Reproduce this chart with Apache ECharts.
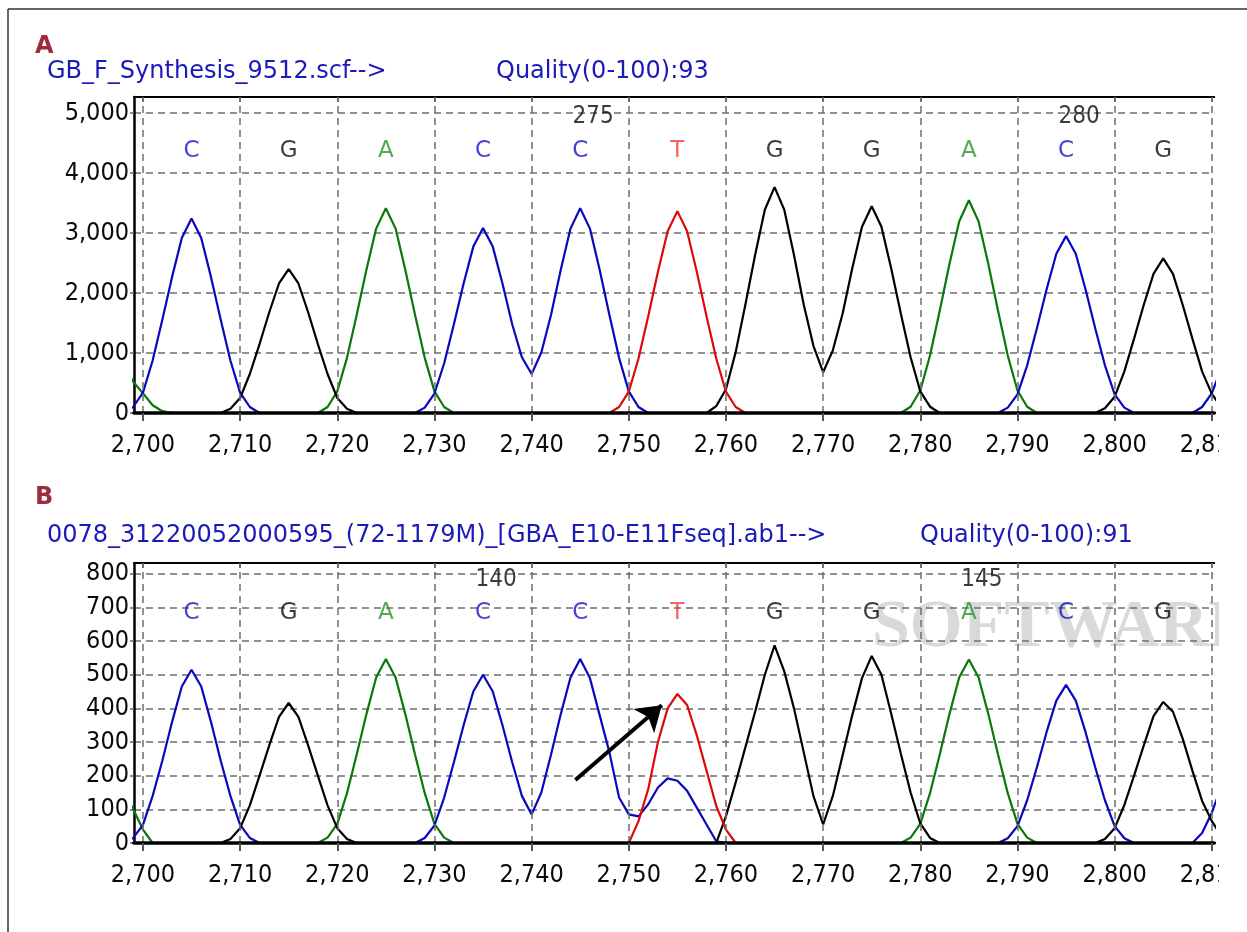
<!DOCTYPE html>
<html><head><meta charset="utf-8">
<script src="https://cdn.jsdelivr.net/npm/echarts@6/dist/echarts.min.js"></script>
<style>html,body{margin:0;padding:0;background:#fff}#c{width:1247px;height:932px}</style>
</head><body><div id="c"></div>
<script>
// ---------- DATA ----------
const X0 = 2698;                     // first scan position of every trace array (one value per scan)
const xTicks = [2700,2710,2720,2730,2740,2750,2760,2770,2780,2790,2800,2810];
const baseCalls = ['C','G','A','C','C','T','G','G','A','C','G'];
const basePositions = [2705,2715,2725,2735,2745,2755,2765,2775,2785,2795,2805];
const numPosA = [2745, 2795], numLabelsA = ['275', '280'];
const numPosB = [2735, 2785], numLabelsB = ['140', '145'];
const titleA = 'GB_F_Synthesis_9512.scf-->', qualityA = 'Quality(0-100):93';
const titleB = '0078_31220052000595_(72-1179M)_[GBA_E10-E11Fseq].ab1-->', qualityB = 'Quality(0-100):91';
const arrowFrom = [2744.5, 187], arrowTo = [2753.4, 409];

// Panel A traces, x = 2698 .. 2811
const A_C = [0,100,
 340,875,1560,2270,2920,3245,2920,2270,1560,875,
 340,100,0,0,0,0,0,0,0,0,
 0,0,0,0,0,0,0,0,0,90,
 325,830,1480,2160,2775,3083,2775,2160,1480,930,
 650,1010,1640,2390,3075,3416,3075,2390,1640,920,
 360,100,0,0,0,0,0,0,0,0,
 0,0,0,0,0,0,0,0,0,0,
 0,0,0,0,0,0,0,0,0,0,
 0,0,0,0,0,0,0,0,0,90,
 310,795,1415,2065,2655,2950,2655,2065,1415,795,
 310,90,0,0,0,0,0,0,0,100,
 330,750];
const A_G = [0,0,
 0,0,0,0,0,0,0,0,0,70,
 250,650,1150,1680,2160,2400,2160,1680,1150,650,
 250,70,0,0,0,0,0,0,0,0,
 0,0,0,0,0,0,0,0,0,0,
 0,0,0,0,0,0,0,0,0,0,
 0,0,0,0,0,0,0,0,0,115,
 395,1015,1810,2635,3390,3766,3390,2635,1810,1120,
 680,1045,1655,2415,3105,3449,3105,2415,1655,930,
 360,105,0,0,0,0,0,0,0,0,
 0,0,0,0,0,0,0,0,0,80,
 270,695,1240,1805,2320,2580,2320,1805,1240,695,
 320,90];
const A_A = [800,520,
 330,130,30,0,0,0,0,0,0,0,
 0,0,0,0,0,0,0,0,0,100,
 360,920,1640,2390,3075,3416,3075,2390,1640,920,
 360,100,0,0,0,0,0,0,0,0,
 0,0,0,0,0,0,0,0,0,0,
 0,0,0,0,0,0,0,0,0,0,
 0,0,0,0,0,0,0,0,0,0,
 0,0,0,0,0,0,0,0,0,105,
 375,960,1705,2485,3195,3549,3195,2485,1705,960,
 375,105,0,0,0,0,0,0,0,0,
 0,0,0,0,0,0,0,0,0,0,
 0,0];
const A_T = [0,0,
 0,0,0,0,0,0,0,0,0,0,
 0,0,0,0,0,0,0,0,0,0,
 0,0,0,0,0,0,0,0,0,0,
 0,0,0,0,0,0,0,0,0,0,
 0,0,0,0,0,0,0,0,0,100,
 355,910,1615,2355,3030,3367,3030,2355,1615,910,
 355,100,0,0,0,0,0,0,0,0,
 0,0,0,0,0,0,0,0,0,0,
 0,0,0,0,0,0,0,0,0,0,
 0,0,0,0,0,0,0,0,0,0,
 0,0,0,0,0,0,0,0,0,0,
 0,0];

// Panel B traces, x = 2698 .. 2811
const B_C = [0,15,
 54,140,245,360,465,515,465,360,245,140,
 54,15,0,0,0,0,0,0,0,0,
 0,0,0,0,0,0,0,0,0,15,
 52,135,240,350,450,500,450,350,240,140,
 85,150,263,383,492,547,490,380,270,135,
 85,79,115,165,192,185,155,105,55,5,
 0,0,0,0,0,0,0,0,0,0,
 0,0,0,0,0,0,0,0,0,0,
 0,0,0,0,0,0,0,0,0,14,
 50,127,225,330,423,470,423,330,225,127,
 50,14,0,0,0,0,0,0,0,30,
 90,170];
const B_G = [0,0,
 0,0,0,0,0,0,0,0,0,12,
 44,112,200,290,375,416,375,290,200,112,
 44,12,0,0,0,0,0,0,0,0,
 0,0,0,0,0,0,0,0,0,0,
 0,0,0,0,0,0,0,0,0,0,
 0,0,0,0,0,0,0,0,0,0,
 80,180,285,390,500,587,510,400,270,140,
 55,140,260,380,490,556,500,385,265,150,
 58,15,0,0,0,0,0,0,0,0,
 0,0,0,0,0,0,0,0,0,12,
 44,113,200,290,377,419,390,310,215,125,
 65,20];
const B_A = [160,100,
 40,0,0,0,0,0,0,0,0,0,
 0,0,0,0,0,0,0,0,0,16,
 57,148,263,383,492,547,492,383,263,148,
 57,16,0,0,0,0,0,0,0,0,
 0,0,0,0,0,0,0,0,0,0,
 0,0,0,0,0,0,0,0,0,0,
 0,0,0,0,0,0,0,0,0,0,
 0,0,0,0,0,0,0,0,0,16,
 57,148,263,383,492,545,492,383,263,148,
 57,16,0,0,0,0,0,0,0,0,
 0,0,0,0,0,0,0,0,0,0,
 0,0];
const B_T = [0,0,
 0,0,0,0,0,0,0,0,0,0,
 0,0,0,0,0,0,0,0,0,0,
 0,0,0,0,0,0,0,0,0,0,
 0,0,0,0,0,0,0,0,0,0,
 0,0,0,0,0,0,0,0,0,0,
 0,65,160,300,400,443,410,320,215,110,
 40,0,0,0,0,0,0,0,0,0,
 0,0,0,0,0,0,0,0,0,0,
 0,0,0,0,0,0,0,0,0,0,
 0,0,0,0,0,0,0,0,0,0,
 0,0,0,0,0,0,0,0,0,0,
 0,0];

// ---------- STYLE ----------
const FONT_C = '"DejaVu Sans Condensed", "DejaVu Sans", sans-serif';
const FONT = '"DejaVu Sans", sans-serif';
const traceColor = {C:'#0808be', G:'#000000', A:'#0a780a', T:'#dc0a0a'};
const letterColor = {C:'#1414c8', G:'#0a0a0a', A:'#2a962a', T:'#f23a3a'};
const gridDash = {type:[7,5], color:'#6e6e6e', width:1.5};
const X_MIN = 2699.08, X_MAX = 2810.25;
const fmt = v => Math.round(v).toLocaleString('en-US');

const panels = [
  {grid:{left:134, right:29, top:97, height:316}, yMax:5270, yInt:1000,
   traces:{C:A_C, G:A_G, A:A_A, T:A_T}, letterY:4364, numY:4947, numPos:numPosA, numLabels:numLabelsA},
  {grid:{left:134, right:29, top:563, height:280}, yMax:832, yInt:100,
   traces:{C:B_C, G:B_G, A:B_A, T:B_T}, letterY:684, numY:781, numPos:numPosB, numLabels:numLabelsB}
];

const grids = [], xAxes = [], yAxes = [], series = [];
panels.forEach((p, i) => {
  grids.push(p.grid);
  const bottomIdx = xAxes.length;
  xAxes.push({
    type:'value', gridIndex:i, min:X_MIN, max:X_MAX, position:'bottom', z:5,
    axisLine:{show:true, lineStyle:{color:'#000', width:3.5}},
    axisTick:{show:true, customValues:xTicks, length:8, lineStyle:{color:'#555', width:2}},
    axisLabel:{show:true, customValues:xTicks, formatter:fmt, margin:20,
      fontSize:25, fontFamily:FONT_C, color:'#0a0a0a'},
    splitLine:{show:false}
  });
  xAxes.push({
    type:'value', gridIndex:i, min:X_MIN, max:X_MAX, position:'top',
    axisLine:{show:true, lineStyle:{color:'#000', width:2}},
    axisTick:{show:true, inside:true, customValues:xTicks, length:5, lineStyle:{color:'#444', width:1.5}},
    axisLabel:{show:false}, splitLine:{show:false}
  });
  yAxes.push({
    type:'value', gridIndex:i, min:0, max:p.yMax, interval:p.yInt,
    axisLine:{show:true, lineStyle:{color:'#000', width:2.5}},
    axisTick:{show:true, length:4, lineStyle:{color:'#4a6a9a', width:1.5}},
    axisLabel:{showMaxLabel:false, formatter:fmt, margin:5, fontSize:25, fontFamily:FONT_C, color:'#0a0a0a'},
    splitLine:{show:true, lineStyle:gridDash}
  });
  // vertical dashed grid lines
  series.push({
    type:'line', xAxisIndex:bottomIdx, yAxisIndex:i, data:[], z:1, silent:true,
    markLine:{silent:true, symbol:['none','none'], label:{show:false}, lineStyle:gridDash,
      emphasis:{disabled:true}, animation:false,
      data:xTicks.map(v => ({xAxis:v}))}
  });
  ['A','C','G','T'].forEach(b => {
    series.push({
      type:'line', xAxisIndex:bottomIdx, yAxisIndex:i, showSymbol:false, silent:true,
      clip:true, animation:false, z:3,
      lineStyle:{color:traceColor[b], width:2.2},
      data:p.traces[b].map((v, k) => [X0 + k, v])
    });
  });
  // base calls
  series.push({
    type:'scatter', xAxisIndex:bottomIdx, yAxisIndex:i, symbolSize:0, silent:true, z:4, animation:false,
    data:basePositions.map((x, k) => ({value:[x, p.letterY],
      label:{show:true, position:'inside', formatter:baseCalls[k], color:letterColor[baseCalls[k]],
        fontSize:23, fontFamily:FONT}}))
  });
  // position numbers
  series.push({
    type:'scatter', xAxisIndex:bottomIdx, yAxisIndex:i, symbolSize:0, silent:true, z:4, animation:false,
    data:p.numPos.map((x, k) => ({value:[x, p.numY],
      label:{show:true, position:'inside', offset:[13,0], formatter:p.numLabels[k], color:'#0a0a0a',
        fontSize:24, fontFamily:FONT_C}}))
  });
});

// arrow in panel B
series.push({
  type:'line', xAxisIndex:2, yAxisIndex:1, data:[], z:6, silent:true,
  markLine:{silent:true, symbol:['none','arrow'], symbolSize:24, label:{show:false}, animation:false,
    lineStyle:{color:'#000', width:4, type:'solid'},
    data:[[{coord:arrowFrom}, {coord:arrowTo}]]}
});

const chart = echarts.init(document.getElementById('c'), null, {renderer:'canvas'});
chart.setOption({
  animation:false,
  backgroundColor:'#fff',
  grid:grids, xAxis:xAxes, yAxis:yAxes, series:series,
  graphic:[
    {type:'text', z:0, left:872, top:594, silent:true,
     style:{text:'SOFTWARE', font:'bold 68px "Liberation Serif", serif', fill:'#d9d9d9'}},
    {type:'rect', z:100, shape:{x:1219, y:20, width:40, height:920}, style:{fill:'#fff'}, silent:true},
    {type:'line', z:100, shape:{x1:8, y1:9, x2:1247, y2:9}, style:{stroke:'#333', lineWidth:1.5}},
    {type:'line', z:100, shape:{x1:8, y1:9, x2:8, y2:932}, style:{stroke:'#333', lineWidth:1.5}},
    {type:'text', z:100, x:35, y:47, style:{text:'A', font:'bold 24px ' + FONT, fill:'#9e2a3a', verticalAlign:'middle'}},
    {type:'text', z:100, x:47, y:72, style:{text:titleA, font:'24px ' + FONT, fill:'#1a1ab8', verticalAlign:'middle'}},
    {type:'text', z:100, x:496, y:72, style:{text:qualityA, font:'24px ' + FONT, fill:'#1a1ab8', verticalAlign:'middle'}},
    {type:'text', z:100, x:35, y:498, style:{text:'B', font:'bold 24px ' + FONT, fill:'#9e2a3a', verticalAlign:'middle'}},
    {type:'text', z:100, x:47, y:536, style:{text:titleB, font:'24px ' + FONT, fill:'#1a1ab8', verticalAlign:'middle'}},
    {type:'text', z:100, x:920, y:536, style:{text:qualityB, font:'24px ' + FONT, fill:'#1a1ab8', verticalAlign:'middle'}}
  ]
});
</script>
</body></html>
